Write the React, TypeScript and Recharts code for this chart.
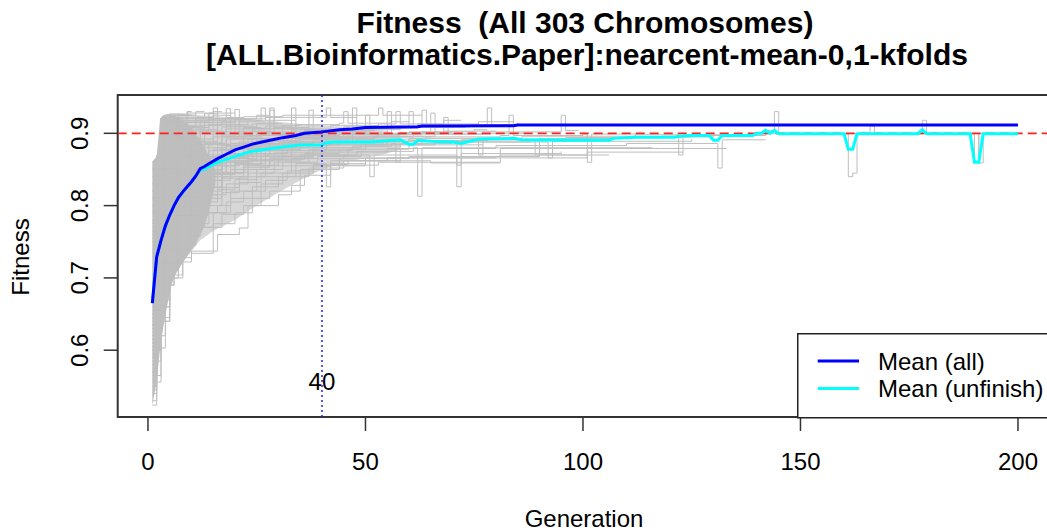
import React from 'react';
import { ComposedChart, Line, Area, XAxis, YAxis, Legend, ReferenceArea, ReferenceDot } from 'recharts';

type Pt = [number, number];
type Band = [number, number, number];

const FONT = '"Liberation Sans", Arial, Helvetica, sans-serif';

const xDomain: [number, number] = [-6.96, 207.96];
const yDomain: [number, number] = [0.5076, 0.953];
const xTicks = [0, 50, 100, 150, 200];
const yTicks = [0.6, 0.7, 0.8, 0.9];
const threshold = 0.9;
const cutoffGeneration = 40;
const cutoffLabelY = 0.5567;

const titleLines = ['Fitness  (All 303 Chromosomes)', '[ALL.Bioinformatics.Paper]:nearcent-mean-0,1-kfolds'];
const xLabel = 'Generation';
const yLabel = 'Fitness';

const meanAll: Pt[] = [
  [1, 0.665], [2, 0.729], [3, 0.752], [4, 0.772], [5, 0.787], [6, 0.8], [7, 0.811], [8, 0.819], [9, 0.826],
  [10, 0.833], [11, 0.841], [12, 0.851], [13, 0.854], [14, 0.858], [16, 0.865], [18, 0.871], [20, 0.877],
  [22, 0.881], [24, 0.885], [27, 0.889], [31, 0.894], [34, 0.897], [36, 0.9], [40, 0.902], [44, 0.905],
  [47, 0.906], [50, 0.908], [62, 0.909], [63, 0.9102], [84, 0.9104], [85, 0.9115], [200, 0.9115],
];

const meanUnfinished: Pt[] = [
  [1, 0.665], [2, 0.729], [3, 0.752], [4, 0.772], [5, 0.787], [6, 0.8], [7, 0.811], [8, 0.819], [9, 0.826],
  [10, 0.833], [11, 0.841], [12, 0.849], [13, 0.851], [14, 0.854], [16, 0.86], [18, 0.864], [20, 0.868],
  [23, 0.874], [27, 0.878], [31, 0.881], [35, 0.884], [40, 0.884], [41, 0.887], [43, 0.888], [51, 0.888],
  [58, 0.891], [60, 0.885], [61, 0.885], [62, 0.89], [65, 0.889], [70, 0.888], [72, 0.886], [74, 0.889],
  [76, 0.892], [84, 0.893], [86, 0.891], [95, 0.8905], [106, 0.8905], [107, 0.893], [112, 0.8946],
  [121, 0.8946], [122, 0.896], [125, 0.897], [129, 0.897], [130, 0.8905], [131, 0.8905], [132, 0.897],
  [139, 0.897], [140, 0.9], [141, 0.9], [142, 0.904], [143, 0.9], [144, 0.904], [145, 0.8995], [160, 0.8995],
  [161, 0.8778], [162, 0.8778], [163, 0.8995], [177, 0.8995], [178, 0.905], [179, 0.8995], [189, 0.8995],
  [190, 0.86], [191, 0.86], [192, 0.8995], [200, 0.8995],
];

// where the 303 traces overlap completely (generation, low, high)
const coreBand: Band[] = [
  [1, .524, .861], [2, .556, .868], [2.8, .603, .921], [3.5, .631, .925], [4.3, .658, .926], [5.4, .69, .926],
  [6.2, .704, .924], [8.1, .722, .918], [9.7, .736, .91], [11, .748, .9], [12.5, .765, .885], [14, .79, .87],
  [15.5, .83, .85],
];

// where the traces overlap partly (speckled grey)
const overlapBand: Band[] = [
  [2.8, .61, .92], [5, .69, .928], [8, .722, .928], [10, .737, .926], [12, .752, .925], [15, .765, .924],
  [20, .78, .922], [25, .8, .919], [30, .818, .916], [35, .835, .913], [40, .85, .911], [45, .86, .909],
  [50, .866, .907], [55, .872, .903], [58, .878, .898],
];

// chromosomes that finished early (high fitness)
const grayEarly: Pt[][] = [
  [[1, .86], [2, .862], [3, .9], [5, .915], [9, .928], [15, .93], [17, .93]],
  [[1, .85], [2, .87], [4, .925], [9, .93], [10, .93]],
  [[1, .84], [3, .88], [5, .905], [8, .918], [14, .928], [20, .928]],
  [[1, .83], [2, .86], [4, .9], [7, .922], [8, .922]],
  [[1, .82], [2, .86], [3, .89], [6, .91], [11, .92], [25, .925], [28, .925]],
  [[1, .81], [2, .855], [3, .895], [6, .918], [9, .918]],
  [[1, .80], [2, .85], [4, .925], [9, .93], [10, .93]],
  [[1, .79], [2, .845], [3, .88], [5, .905], [8, .917], [14, .922], [15, .922]],
  [[1, .78], [2, .862], [3, .921], [12, .921]],
  [[1, .77], [2, .86], [3, .91], [6, .925], [10, .925]],
  [[1, .765], [2, .835], [3, .872], [5, .895], [8, .91], [13, .918], [18, .918]],
  [[1, .76], [2, .855], [3, .9], [4, .915], [7, .925], [11, .93], [13, .93]],
  [[1, .75], [2, .85], [3, .89], [5, .912], [8, .921], [13, .927], [16, .927]],
  [[1, .745], [2, .815], [3, .855], [4, .87], [6, .89], [9, .903], [14, .912], [21, .916], [23, .916]],
  [[1, .74], [2, .84], [3, .88], [4, .9], [7, .915], [11, .922], [15, .925], [19, .925]],
  [[1, .73], [2, .83], [3, .87], [5, .895], [8, .91], [12, .918], [18, .922], [22, .922]],
  [[1, .725], [2, .795], [3, .835], [5, .862], [7, .878], [10, .892], [15, .902], [22, .908], [26, .908]],
  [[1, .72], [2, .82], [3, .86], [4, .88], [6, .898], [9, .908], [14, .915], [20, .919], [24, .919]],
  [[1, .71], [2, .81], [3, .85], [5, .878], [7, .893], [11, .905], [16, .912], [23, .917], [27, .917]],
  [[1, .705], [2, .775], [3, .81], [4, .83], [6, .855], [9, .873], [13, .886], [18, .895], [26, .901], [29, .901]],
  [[1, .695], [2, .77], [3, .81], [5, .85], [8, .875], [11, .889], [16, .9], [18, .934], [19, .9], [22, .907], [31, .911], [35, .911]],
  [[1, .715], [2, .79], [3, .83], [5, .865], [8, .888], [12, .902], [15, .935], [16, .902], [18, .91], [24, .913], [31, .913]],
  [[1, .735], [2, .8], [3, .845], [5, .88], [8, .9], [12, .911], [17, .917], [25, .918], [26, .935], [27, .918], [34, .918]],
];

// chromosomes finishing between generation 30 and 90
const grayMid: Pt[][] = [
  [[1, .70], [2, .80], [4, .855], [6, .878], [8, .892], [12, .903], [17, .909], [25, .914], [30, .914]],
  [[1, .69], [2, .79], [3, .83], [4, .85], [6, .872], [9, .889], [13, .899], [18, .906], [27, .91], [33, .91]],
  [[1, .685], [2, .755], [3, .79], [5, .825], [7, .845], [10, .862], [14, .876], [19, .886], [26, .893], [32, .893]],
  [[1, .68], [2, .78], [3, .815], [5, .85], [7, .868], [10, .884], [15, .895], [21, .903], [28, .935], [29, .908], [37, .908]],
  [[1, .675], [2, .745], [3, .79], [5, .83], [8, .862], [12, .885], [17, .898], [24, .906], [34, .912], [44, .914], [45, .93], [46, .914], [56, .916], [60, .916]],
  [[1, .67], [2, .77], [4, .83], [6, .855], [9, .875], [12, .887], [17, .896], [20, .933], [21, .896], [24, .902], [33, .906], [39, .906]],
  [[1, .665], [2, .73], [4, .8], [6, .835], [9, .862], [13, .88], [18, .892], [25, .9], [28, .932], [29, .9], [36, .905], [42, .905]],
  [[1, .66], [2, .76], [3, .80], [5, .835], [7, .855], [10, .872], [14, .885], [19, .893], [26, .899], [36, .904], [44, .904]],
  [[1, .655], [2, .715], [3, .755], [4, .78], [6, .81], [9, .838], [13, .858], [18, .872], [24, .882], [32, .889], [36, .889]],
  [[1, .65], [2, .75], [3, .785], [5, .82], [8, .848], [11, .865], [15, .878], [21, .888], [29, .894], [40, .899], [46, .899]],
  [[1, .65], [2, .72], [3, .765], [5, .81], [8, .845], [12, .868], [17, .883], [23, .892], [30, .898], [33, .935], [34, .898], [41, .902], [51, .902]],
  [[1, .645], [2, .71], [4, .78], [7, .83], [11, .862], [16, .884], [22, .897], [31, .906], [42, .911], [53, .913], [57, .93], [58, .913], [68, .918], [72, .918]],
  [[1, .64], [2, .74], [4, .80], [6, .83], [9, .852], [13, .87], [18, .882], [25, .89], [34, .895], [47, .9], [54, .9]],
  [[1, .635], [2, .695], [3, .735], [5, .78], [8, .815], [11, .838], [15, .855], [20, .868], [27, .878], [35, .885], [38, .885]],
  [[1, .635], [2, .7], [4, .77], [7, .82], [10, .848], [14, .867], [19, .88], [26, .889], [35, .895], [45, .899], [47, .935], [48, .899], [58, .901], [70, .901]],
  [[1, .63], [2, .73], [3, .77], [4, .79], [7, .83], [10, .85], [14, .866], [20, .878], [28, .886], [38, .891], [52, .895], [65, .895]],
  [[1, .625], [3, .74], [5, .79], [8, .83], [12, .857], [17, .878], [24, .893], [33, .903], [45, .909], [62, .913], [76, .916], [84, .916]],
  [[1, .62], [2, .69], [3, .73], [5, .78], [8, .82], [12, .85], [17, .87], [24, .884], [33, .893], [44, .899], [50, .925], [51, .899], [60, .902], [67, .902]],
  [[1, .615], [2, .68], [4, .755], [6, .785], [8, .805], [11, .825], [15, .843], [20, .857], [26, .868], [33, .876], [41, .879]],
  [[1, .615], [3, .72], [5, .775], [8, .815], [12, .845], [17, .866], [23, .879], [31, .888], [41, .893], [52, .896], [66, .899], [68, .922], [69, .899], [79, .9], [87, .9]],
  [[1, .61], [2, .71], [4, .77], [6, .80], [9, .825], [13, .845], [18, .86], [24, .872], [32, .88], [41, .885], [54, .889], [58, .889]],
  [[1, .61], [2, .68], [4, .76], [7, .81], [11, .845], [16, .87], [22, .886], [30, .897], [39, .903], [49, .907], [62, .91], [63, .932], [64, .91], [82, .912], [85, .912]],
  [[1, .605], [2, .67], [4, .74], [7, .80], [11, .84], [16, .866], [23, .884], [32, .897], [37, .932], [38, .897], [44, .905], [58, .909], [74, .912], [85, .915]],
  [[1, .60], [2, .66], [4, .74], [6, .78], [9, .815], [13, .845], [18, .865], [25, .88], [34, .891], [46, .898], [63, .902], [65, .928], [66, .902], [75, .905], [78, .905]],
  [[1, .595], [2, .655], [3, .7], [5, .76], [7, .785], [10, .808], [13, .825], [17, .84], [22, .853], [28, .864], [36, .872], [44, .876]],
  [[1, .59], [2, .69], [3, .73], [5, .77], [7, .79], [10, .815], [14, .835], [19, .85], [26, .862], [35, .87], [46, .878], [60, .884], [77, .884]],
  [[1, .59], [2, .67], [4, .745], [7, .8], [11, .84], [16, .867], [22, .885], [30, .897], [40, .904], [52, .908], [60, .93], [61, .908], [73, .911], [78, .935], [79, .911], [84, .913]],
  [[1, .585], [2, .66], [3, .71], [6, .78], [9, .812], [13, .84], [19, .862], [26, .877], [35, .888], [47, .895], [61, .899], [77, .902], [95, .925], [96, .904], [99, .904]],
  [[1, .58], [2, .65], [3, .7], [5, .76], [8, .8], [12, .835], [17, .86], [23, .876], [30, .887], [40, .895], [53, .9], [55, .93], [56, .9], [68, .903], [80, .903]],
  [[1, .575], [2, .63], [3, .675], [4, .715], [6, .755], [9, .785], [12, .805], [16, .822], [20, .836], [25, .85], [31, .86], [39, .868], [49, .873]],
  [[1, .555], [2, .6], [3, .66], [5, .72], [7, .75], [10, .78], [13, .8], [17, .818], [21, .832], [26, .845], [33, .855], [42, .862], [50, .862]],
  [[1, .55], [2, .62], [3, .68], [4, .71], [6, .74], [9, .77], [13, .79], [16, .80], [19, .82], [25, .84], [34, .858], [41, .826], [42, .858], [50, .862], [65, .859], [81, .859]],
  [[1, .545], [2, .585], [3, .65], [4, .69], [6, .73], [8, .755], [11, .775], [14, .79], [18, .805], [22, .82], [27, .835], [32, .848], [38, .857], [46, .862], [58, .862]],
  [[1, .755], [2, .83], [3, .865], [5, .89], [8, .906], [13, .915], [19, .92], [27, .922], [40, .922], [41, .935], [42, .922], [48, .922]],
  [[1, .775], [2, .84], [3, .88], [5, .903], [9, .915], [14, .92], [22, .923], [31, .925], [52, .925], [53, .935], [54, .925], [63, .925]],
];

// slow chromosomes that run past generation 90
const grayLate: Pt[][] = [
  [[1, .524], [2, .556], [3, .603], [4, .645], [5, .69], [6, .704], [8, .722], [10, .737], [16, .76], [21, .769], [23, .80], [30, .815], [33, .828], [36, .842], [42, .856], [53, .86], [81, .866], [101, .874], [123, .874]],
  [[1, .53], [2, .565], [3, .62], [4, .66], [5, .70], [7, .728], [10, .734], [15, .775], [20, .79], [24, .81], [28, .82], [35, .85], [44, .865], [60, .868], [90, .87], [101, .879], [133, .879]],
  [[1, .54], [2, .6], [3, .64], [5, .72], [7, .745], [9, .758], [12, .77], [17, .788], [22, .80], [26, .83], [31, .845], [38, .855], [50, .866], [81, .87], [106, .87]],
  [[1, .56], [2, .64], [3, .70], [5, .75], [8, .78], [11, .80], [14, .815], [18, .83], [23, .845], [29, .86], [37, .87], [48, .875], [61, .88], [62, .813], [63, .88], [116, .88]],
  [[1, .565], [2, .62], [3, .67], [5, .73], [8, .775], [12, .81], [17, .838], [23, .856], [30, .868], [38, .876], [47, .882], [56, .886], [57, .86], [58, .886], [70, .888], [71, .856], [72, .888], [88, .89], [89, .87], [90, .89], [104, .892]],
  [[1, .565], [2, .6], [3, .64], [5, .7], [8, .745], [11, .77], [15, .79], [19, .81], [24, .826], [30, .84], [37, .852], [45, .862], [55, .866], [80, .868], [81, .879], [100, .879], [101, .86], [102, .879], [117, .88]],
  [[1, .57], [2, .66], [3, .71], [4, .735], [6, .76], [9, .79], [12, .81], [16, .825], [21, .84], [27, .855], [33, .865], [45, .87], [51, .84], [52, .87], [71, .826], [72, .872], [95, .875]],
  [[1, .58], [2, .67], [4, .75], [6, .78], [9, .80], [12, .826], [17, .845], [22, .855], [28, .866], [38, .874], [55, .879], [80, .883], [110, .886], [131, .852], [132, .891], [142, .891]],
  [[1, .585], [2, .65], [4, .72], [7, .775], [11, .815], [16, .845], [22, .862], [29, .873], [38, .88], [49, .885], [63, .889], [75, .891], [76, .87], [77, .891], [97, .894], [118, .896], [121, .896]],
  [[1, .60], [2, .70], [3, .745], [5, .785], [8, .81], [11, .83], [15, .845], [20, .858], [27, .87], [37, .878], [50, .884], [66, .888], [92, .866], [93, .889], [125, .892]],
  [[1, .605], [2, .68], [3, .72], [6, .79], [10, .83], [15, .855], [21, .87], [28, .88], [37, .887], [48, .892], [64, .895], [81, .897], [83, .925], [84, .897], [100, .899], [101, .88], [102, .899], [113, .899]],
  [[1, .62], [2, .72], [3, .76], [5, .795], [8, .825], [12, .848], [17, .865], [23, .876], [31, .884], [42, .889], [60, .893], [86, .896], [112, .898], [122, .87], [123, .898], [140, .899]],
];

// chromosomes still unfinished at generation 200
const graySurvivors: Pt[][] = [
  [[1, .57], [2, .63], [3, .68], [5, .74], [8, .785], [12, .82], [17, .846], [23, .864], [31, .876], [41, .884], [55, .889], [72, .891], [90, .893], [110, .895], [125, .897], [140, .8995], [161, .84], [162, .845], [163, .8995], [191, .859], [192, .8995], [200, .8995]],
  [[1, .6], [2, .67], [4, .75], [6, .79], [9, .82], [13, .845], [18, .862], [25, .876], [33, .884], [44, .888], [60, .89], [78, .892], [96, .894], [112, .895], [130, .897], [142, .904], [144, .93], [145, .8995], [166, .91], [167, .8995], [178, .918], [179, .8995], [190, .86], [191, .8995], [200, .8995]],
];

const toRows = (pts: Pt[]) => pts.map(([g, f]) => ({ g, f }));
const toBandRows = (b: Band[]) => b.map(([g, lo, hi]) => ({ g, band: [lo, hi] }));

const grayAll = [...grayEarly, ...grayMid, ...grayLate, ...graySurvivors];

const meanSeries = [
  { name: 'Mean (all)', color: '#0000FF', data: meanAll },
  { name: 'Mean (unfinish)', color: '#00FFFF', data: meanUnfinished },
];

const XTick = (p: any) => (
  <text x={p.x} y={p.y + 37} textAnchor="middle" fontSize={24} fontFamily={FONT} fill="#000">
    {String(p.payload.value)}
  </text>
);

const YTick = (p: any) => {
  const bx = p.x - 14;
  return (
    <text x={bx} y={p.y} transform={`rotate(-90 ${bx} ${p.y})`} textAnchor="middle" fontSize={24} fontFamily={FONT} fill="#000">
      {String(p.payload.value)}
    </text>
  );
};

const LegendBox = () => (
  <svg width={270} height={86} style={{ display: 'block', overflow: 'visible' }}>
    <rect x={0.75} y={0.75} width={300} height={84} fill="#fff" stroke="#222" strokeWidth={1.5} />
    {meanSeries.map((s, i) => (
      <g key={s.name}>
        <line x1={20.7} x2={62} y1={28 + i * 27.6} y2={28 + i * 27.6} stroke={s.color} strokeWidth={3} />
        <text x={81} y={36.5 + i * 27.6} fontSize={24} fontFamily={FONT} fill="#000">{s.name}</text>
      </g>
    ))}
  </svg>
);

export default function App() {
  const unf = meanSeries[1];
  const all = meanSeries[0];
  return (
    <div style={{ position: 'absolute', left: 0, top: 0, width: 1047, height: 531, overflow: 'hidden', background: '#fff' }}>
      <ComposedChart width={1060} height={531} margin={{ top: 95, right: 7.4, bottom: 0, left: 0 }}>
        <XAxis
          type="number"
          dataKey="g"
          domain={xDomain}
          ticks={xTicks}
          allowDataOverflow
          axisLine={false}
          tickSize={14}
          tickLine={{ stroke: '#333', strokeWidth: 1.5 }}
          tick={(p: any) => <XTick {...p} />}
          height={114}
          interval={0}
        />
        <YAxis
          type="number"
          domain={yDomain}
          ticks={yTicks}
          allowDataOverflow
          axisLine={false}
          tickSize={14}
          tickLine={{ stroke: '#333', strokeWidth: 1.5 }}
          tick={(p: any) => <YTick {...p} />}
          width={117.7}
          interval={0}
        />
        <Area
          data={toBandRows(overlapBand)}
          dataKey="band"
          type="linear"
          stroke="none"
          fill="#BEBEBE"
          fillOpacity={0.62}
          isAnimationActive={false}
          legendType="none"
          dot={false}
          activeDot={false}
        />
        <Area
          data={toBandRows(coreBand)}
          dataKey="band"
          type="linear"
          stroke="none"
          fill="#BEBEBE"
          fillOpacity={1}
          isAnimationActive={false}
          legendType="none"
          dot={false}
          activeDot={false}
        />
        {grayAll.map((s, i) => (
          <Line
            key={'g' + i}
            data={toRows(s)}
            dataKey="f"
            type="stepAfter"
            stroke="#BEBEBE"
            strokeWidth={1}
            dot={false}
            activeDot={false}
            isAnimationActive={false}
            legendType="none"
          />
        ))}
        <Line
          data={toRows([[xDomain[0], threshold], [xDomain[1], threshold]])}
          dataKey="f"
          type="linear"
          stroke="#FF2020"
          strokeWidth={1.8}
          strokeDasharray="9 5"
          dot={false}
          activeDot={false}
          isAnimationActive={false}
          legendType="none"
        />
        <Line
          data={toRows(unf.data)}
          dataKey="f"
          name={unf.name}
          type="linear"
          stroke={unf.color}
          strokeWidth={3}
          dot={false}
          activeDot={false}
          isAnimationActive={false}
        />
        <Line
          data={toRows(all.data)}
          dataKey="f"
          name={all.name}
          type="linear"
          stroke={all.color}
          strokeWidth={3}
          dot={false}
          activeDot={false}
          isAnimationActive={false}
        />
        <Line
          data={toRows([[cutoffGeneration, yDomain[0]], [cutoffGeneration, yDomain[1]]])}
          dataKey="f"
          type="linear"
          stroke="#2020FF"
          strokeWidth={1.5}
          strokeDasharray="2 3"
          dot={false}
          activeDot={false}
          isAnimationActive={false}
          legendType="none"
        />
        <ReferenceDot
          x={cutoffGeneration}
          y={cutoffLabelY}
          r={0}
          fill="none"
          stroke="none"
          label={{ value: String(cutoffGeneration), position: 'center', fontSize: 24, fontFamily: FONT, fill: '#000' }}
        />
        <ReferenceArea
          x1={xDomain[0]}
          x2={xDomain[1]}
          y1={yDomain[0]}
          y2={yDomain[1]}
          fill="none"
          fillOpacity={0}
          stroke="#333"
          strokeWidth={2}
        />
        <Legend
          layout="horizontal"
          verticalAlign="middle"
          align="center"
          content={() => <LegendBox />}
          wrapperStyle={{ position: 'absolute', left: 797, top: 332.5, width: 270, height: 86 }}
        />
      </ComposedChart>
      <svg width={1047} height={531} style={{ position: 'absolute', left: 0, top: 0, pointerEvents: 'none' }}>
        <text x={585} y={33} textAnchor="middle" fontSize={30} fontWeight="bold" fontFamily={FONT} fill="#000" style={{ whiteSpace: 'pre' }}>
          {titleLines[0]}
        </text>
        <text x={587} y={65} textAnchor="middle" fontSize={30} fontWeight="bold" fontFamily={FONT} fill="#000" style={{ whiteSpace: 'pre' }}>
          {titleLines[1]}
        </text>
        <text x={584} y={527} textAnchor="middle" fontSize={24} fontFamily={FONT} fill="#000">
          {xLabel}
        </text>
        <text transform="rotate(-90)" x={-257} y={29} textAnchor="middle" fontSize={24} fontFamily={FONT} fill="#000">
          {yLabel}
        </text>
      </svg>
    </div>
  );
}
